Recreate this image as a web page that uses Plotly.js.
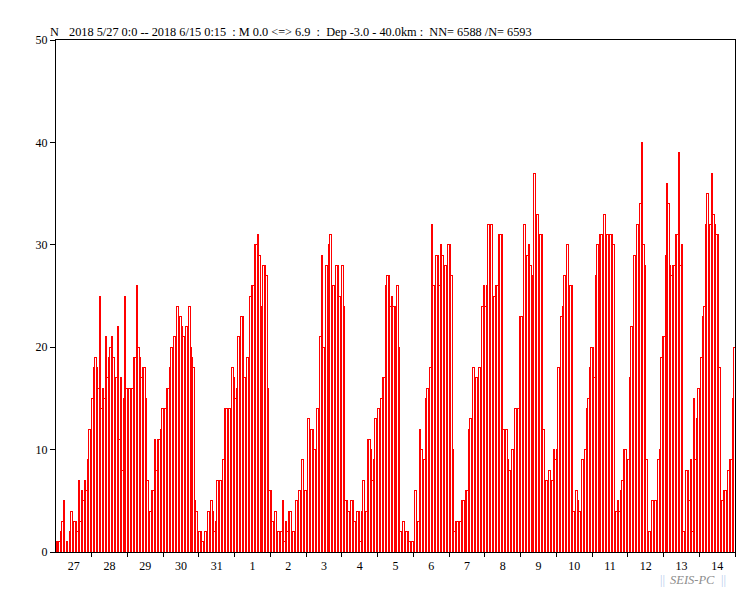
<!DOCTYPE html>
<html>
<head>
<meta charset="utf-8">
<script src="https://cdn.plot.ly/plotly-3.0.1.min.js"></script>
<style>
html,body{margin:0;padding:0;background:#ffffff;}
#chart{width:751px;height:593px;}
#chart .bars path{shape-rendering:crispEdges;}
</style>
</head>
<body>
<div id="chart"></div>
<script>
// Hourly event counts, 2018-05-27 00:00 .. 2018-06-15 00:00 (one array per day, 24 hourly bins)
const dayLabels = ['27','28','29','30','31','1','2','3','4','5','6','7','8','9','10','11','12','13','14'];
const may27 = [1,1,1,2,3,5,0,1,0,2,4,3,3,3,2,7,3,6,5,7,6,9,12,12];
const may28 = [15,18,19,18,16,25,14,16,15,21,17,19,20,21,19,15,17,22,11,17,8,15,25,16];
const may29 = [16,16,9,16,19,19,26,20,19,17,18,18,15,7,4,4,6,6,11,8,11,11,12,14];
const may30 = [14,14,16,16,18,20,20,21,21,24,21,23,22,21,17,22,19,24,20,19,18,5,4,1];
const may31 = [2,2,1,1,2,2,4,4,5,4,2,3,7,4,7,3,9,14,14,11,14,14,18,17];
const jun01 = [15,16,21,21,23,23,17,13,19,15,25,26,26,30,30,31,29,24,24,28,28,27,16,6];
const jun02 = [6,3,2,4,1,2,2,2,5,1,3,2,4,4,2,2,2,5,5,6,6,9,6,6];
const jun03 = [6,13,7,12,12,10,10,14,13,21,29,20,20,28,23,30,31,26,26,26,28,28,25,24];
const jun04 = [28,24,5,5,4,4,5,5,3,2,4,4,1,4,7,4,4,11,11,10,7,9,13,10];
const jun05 = [14,14,15,17,17,26,27,27,24,25,24,24,24,26,20,2,2,3,1,2,2,1,1,1];
const jun06 = [1,6,2,3,12,10,6,9,15,16,16,18,32,26,26,29,29,26,30,29,26,28,28,30];
const jun07 = [30,27,10,2,3,3,2,3,5,5,5,6,6,12,13,9,18,14,17,16,18,18,24,26];
const jun08 = [24,26,32,25,32,25,25,26,26,31,31,31,12,7,12,9,8,8,10,10,14,10,14,23];
const jun09 = [23,23,32,27,29,30,28,27,27,37,32,33,31,31,31,12,7,7,2,8,5,7,10,9];
const jun10 = [10,18,14,23,24,27,27,30,25,26,26,4,2,6,5,4,4,9,8,10,14,15,18,20];
const jun11 = [20,17,27,30,28,31,31,31,33,31,31,31,31,31,30,3,4,5,4,6,7,10,10,9];
const jun12 = [9,17,22,22,29,29,32,32,34,40,30,28,9,2,2,2,5,5,5,5,9,10,19,21];
const jun13 = [21,29,36,34,28,27,28,28,31,31,39,28,30,2,2,8,8,5,9,2,15,9,13,16];
const jun14 = [16,19,23,24,32,35,32,32,37,33,32,31,31,18,1,5,6,6,6,8,9,9,15,20];

const yTicks = [0,10,20,30,40,50];
const titleText = '2018 5/27 0:0 -- 2018 6/15 0:15 &nbsp;: M 0.0 &lt;=&gt; 6.9 &nbsp;: &nbsp;Dep -3.0 - 40.0km : &nbsp;NN= 6588 /N= 6593';

const counts = [].concat(may27, may28, may29, may30, may31, jun01, jun02, jun03, jun04,
  jun05, jun06, jun07, jun08, jun09, jun10, jun11, jun12, jun13, jun14);
const hours = counts.map((_, i) => i + 0.5);
const nDays = dayLabels.length;
const dayCenters = dayLabels.map((_, i) => i * 24 + 12);
const dayBounds = [];
for (let i = 1; i <= nDays; i++) dayBounds.push(i * 24);

const W = 751, H = 593;
const M = {l: 56, r: 16, t: 40, b: 41};
const px2x = p => (p - M.l) / (W - M.l - M.r);
const px2y = p => (H - M.b - p) / (H - M.t - M.b);

const serif = 'Liberation Serif, Times New Roman, serif';

const trace = {
  type: 'bar',
  x: hours,
  y: counts,
  width: 1,
  marker: {color: '#ffffff', line: {color: '#ff0000', width: 1}},
  hoverinfo: 'skip'
};

const wmFont = {family: serif, size: 12.5, color: '#8c8c8c'};
const barFont = {family: serif, size: 12.5, color: '#b7cbed'};

const layout = {
  width: W, height: H,
  margin: M,
  paper_bgcolor: '#ffffff',
  plot_bgcolor: '#ffffff',
  showlegend: false,
  bargap: 0,
  font: {family: serif, size: 12, color: '#000000'},
  title: {
    text: titleText,
    font: {family: serif, size: 12.3, color: '#000000'},
    x: 69 / W, xanchor: 'left', xref: 'container',
    y: 1 - 32 / H, yanchor: 'middle', yref: 'container'
  },
  xaxis: {
    range: [0, nDays * 24],
    showgrid: false, zeroline: false,
    showline: true, linecolor: '#000000', linewidth: 1, mirror: true,
    tickmode: 'array', tickvals: dayCenters, ticktext: dayLabels,
    ticks: '', ticklabelstandoff: 3,
    tickfont: {family: serif, size: 12, color: '#000000'},
    minor: {tickmode: 'array', tickvals: dayBounds, ticks: 'outside', ticklen: 4, tickwidth: 1, tickcolor: '#000000', showgrid: false},
    fixedrange: true
  },
  yaxis: {
    range: [0, 50],
    showgrid: false, zeroline: false,
    showline: true, linecolor: '#000000', linewidth: 1, mirror: true,
    tickmode: 'array', tickvals: yTicks,
    ticks: 'outside', ticklen: 5, tickwidth: 1, tickcolor: '#000000',
    tickfont: {family: serif, size: 12, color: '#000000'},
    fixedrange: true
  },
  annotations: [
    {text: 'N', xref: 'paper', yref: 'paper', x: px2x(54), y: px2y(32), xanchor: 'center', yanchor: 'middle', showarrow: false,
     font: {family: serif, size: 12.3, color: '#000000'}},
    {text: '||', xref: 'paper', yref: 'paper', x: px2x(659), y: px2y(580), xanchor: 'left', yanchor: 'middle', showarrow: false, borderpad: 0, font: barFont},
    {text: '<i>SEIS-PC</i>', xref: 'paper', yref: 'paper', x: px2x(692), y: px2y(580), xanchor: 'center', yanchor: 'middle', showarrow: false, borderpad: 0, font: wmFont},
    {text: '||', xref: 'paper', yref: 'paper', x: px2x(727), y: px2y(580), xanchor: 'right', yanchor: 'middle', showarrow: false, borderpad: 0, font: barFont}
  ]
};

Plotly.newPlot('chart', [trace], layout, {staticPlot: true, displayModeBar: false});
</script>
</body>
</html>
